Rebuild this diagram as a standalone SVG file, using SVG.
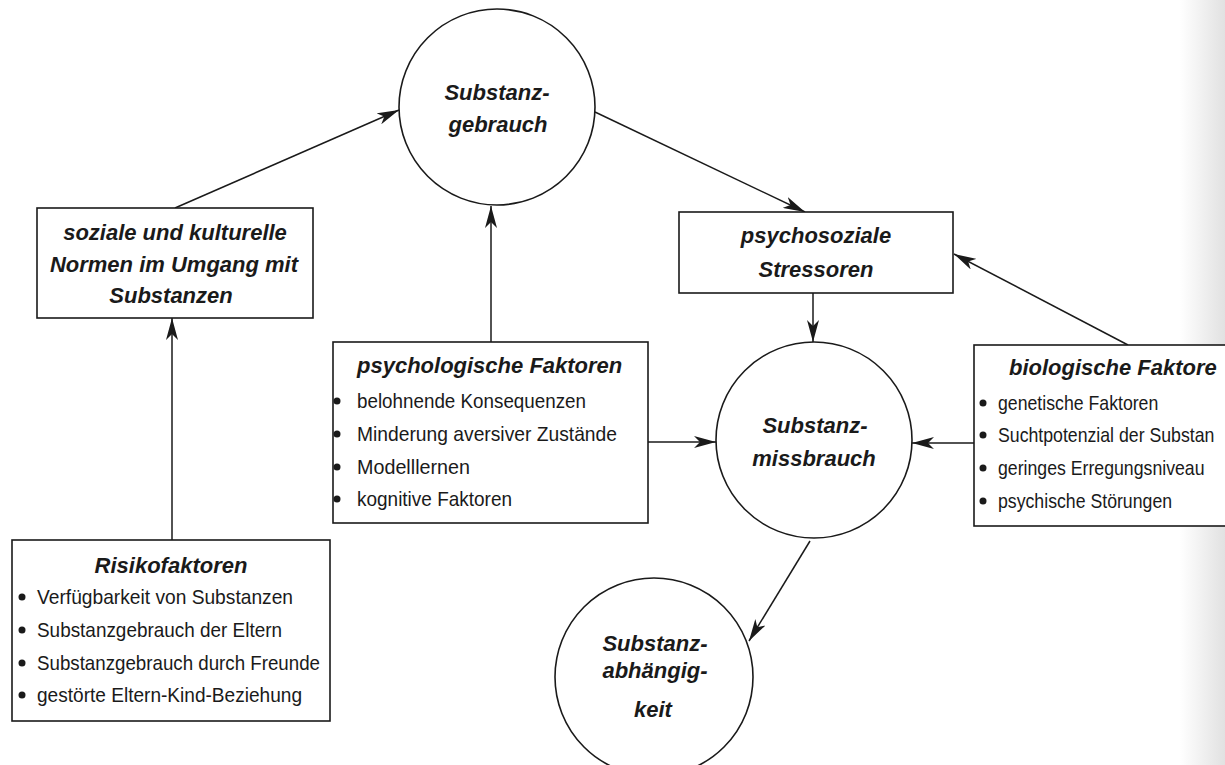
<svg xmlns="http://www.w3.org/2000/svg" width="1225" height="765" viewBox="0 0 1225 765">
  <defs>
    <marker id="ah" viewBox="0 0 22 12" refX="22" refY="6" markerWidth="22" markerHeight="12" markerUnits="userSpaceOnUse" orient="auto">
      <path d="M0,0 L22,6 L0,12 L6,6 Z" fill="#1a1a1a"/>
    </marker>
    <linearGradient id="scan" x1="0" y1="0" x2="1" y2="0">
      <stop offset="0" stop-color="#bdbdbd" stop-opacity="0"/>
      <stop offset="1" stop-color="#bdbdbd" stop-opacity="0.45"/>
    </linearGradient>
    <style>
      .shape { fill: #ffffff; stroke: #1a1a1a; stroke-width: 1.6; }
      .conn { stroke: #1a1a1a; stroke-width: 1.5; fill: none; marker-end: url(#ah); }
      .h { font-family: "Liberation Sans", Arial, sans-serif; font-weight: bold; font-style: italic; font-size: 22px; fill: #1a1a1a; }
      .c { text-anchor: middle; }
      .b { font-family: "Liberation Sans", Arial, sans-serif; font-size: 21px; fill: #1a1a1a; }
      .bs { font-family: "Liberation Sans", Arial, sans-serif; font-size: 20px; fill: #1a1a1a; }
      .dot { fill: #1a1a1a; }
    </style>
  </defs>
  <rect width="1225" height="765" fill="#ffffff"/>
  <rect x="1180" y="0" width="45" height="765" fill="url(#scan)"/>

  <g id="connectors">
    <line class="conn" x1="175" y1="208" x2="399" y2="110"/>
    <line class="conn" x1="491" y1="342" x2="491" y2="206"/>
    <line class="conn" x1="595" y1="112" x2="805" y2="212"/>
    <line class="conn" x1="172" y1="540" x2="172" y2="318"/>
    <line class="conn" x1="813" y1="293" x2="813" y2="342"/>
    <line class="conn" x1="1128" y1="345" x2="954" y2="254"/>
    <line class="conn" x1="648" y1="442" x2="716" y2="442"/>
    <line class="conn" x1="974" y1="443" x2="912" y2="443"/>
    <line class="conn" x1="810" y1="541" x2="749" y2="641"/>
  </g>

  <g id="substanzgebrauch">
    <circle class="shape" cx="497" cy="107" r="98"/>
    <text class="h c" x="497" y="100">Substanz-</text>
    <text class="h c" x="498" y="132">gebrauch</text>
  </g>

  <g id="soziale-normen">
    <rect class="shape" x="37" y="208" width="276" height="110"/>
    <text class="h c" x="175" y="240">soziale und kulturelle</text>
    <text class="h c" x="174" y="272">Normen im Umgang mit</text>
    <text class="h c" x="171" y="303">Substanzen</text>
  </g>

  <g id="psychosoziale-stressoren">
    <rect class="shape" x="679" y="212" width="274" height="81"/>
    <text class="h c" x="816" y="243">psychosoziale</text>
    <text class="h c" x="816" y="277">Stressoren</text>
  </g>

  <g id="psychologische-faktoren">
    <rect class="shape" x="333" y="342" width="315" height="181"/>
    <text class="h" x="357" y="373">psychologische Faktoren</text>
    <circle class="dot" cx="337" cy="401" r="3.5"/>
    <text class="b" x="357" y="408" textLength="229" lengthAdjust="spacingAndGlyphs">belohnende Konsequenzen</text>
    <circle class="dot" cx="337" cy="434" r="3.5"/>
    <text class="b" x="357" y="441" textLength="260" lengthAdjust="spacingAndGlyphs">Minderung aversiver Zustände</text>
    <circle class="dot" cx="337" cy="467" r="3.5"/>
    <text class="b" x="357" y="474" textLength="113" lengthAdjust="spacingAndGlyphs">Modelllernen</text>
    <circle class="dot" cx="337" cy="499" r="3.5"/>
    <text class="b" x="357" y="506" textLength="155" lengthAdjust="spacingAndGlyphs">kognitive Faktoren</text>
  </g>

  <g id="substanzmissbrauch">
    <circle class="shape" cx="814" cy="440" r="98"/>
    <text class="h c" x="815" y="433">Substanz-</text>
    <text class="h c" x="814" y="466">missbrauch</text>
  </g>

  <g id="biologische-faktoren">
    <rect class="shape" x="974" y="345" width="270" height="181"/>
    <text class="h" x="1009" y="375">biologische Faktore</text>
    <circle class="dot" cx="983" cy="403" r="3.5"/>
    <circle class="dot" cx="983" cy="435" r="3.5"/>
    <circle class="dot" cx="983" cy="468" r="3.5"/>
    <circle class="dot" cx="983" cy="501" r="3.5"/>
    <g transform="translate(998 0) scale(0.885 1)">
      <text class="bs" x="0" y="410">genetische Faktoren</text>
      <text class="bs" x="0" y="442">Suchtpotenzial der Substan</text>
      <text class="bs" x="0" y="475">geringes Erregungsniveau</text>
      <text class="bs" x="0" y="508">psychische Störungen</text>
    </g>
  </g>

  <g id="risikofaktoren">
    <rect class="shape" x="12" y="540" width="318" height="181"/>
    <text class="h c" x="171" y="573">Risikofaktoren</text>
    <circle class="dot" cx="22" cy="597" r="3.5"/>
    <text class="b" x="37" y="604" textLength="256" lengthAdjust="spacingAndGlyphs">Verfügbarkeit von Substanzen</text>
    <circle class="dot" cx="22" cy="630" r="3.5"/>
    <text class="b" x="37" y="637" textLength="245" lengthAdjust="spacingAndGlyphs">Substanzgebrauch der Eltern</text>
    <circle class="dot" cx="22" cy="663" r="3.5"/>
    <text class="b" x="37" y="670" textLength="283" lengthAdjust="spacingAndGlyphs">Substanzgebrauch durch Freunde</text>
    <circle class="dot" cx="22" cy="695" r="3.5"/>
    <text class="b" x="37" y="702" textLength="265" lengthAdjust="spacingAndGlyphs">gestörte Eltern-Kind-Beziehung</text>
  </g>

  <g id="substanzabhaengigkeit">
    <circle class="shape" cx="654" cy="677" r="99"/>
    <text class="h c" x="655" y="651">Substanz-</text>
    <text class="h c" x="655" y="678">abhängig-</text>
    <text class="h c" x="653" y="717">keit</text>
  </g>
</svg>
